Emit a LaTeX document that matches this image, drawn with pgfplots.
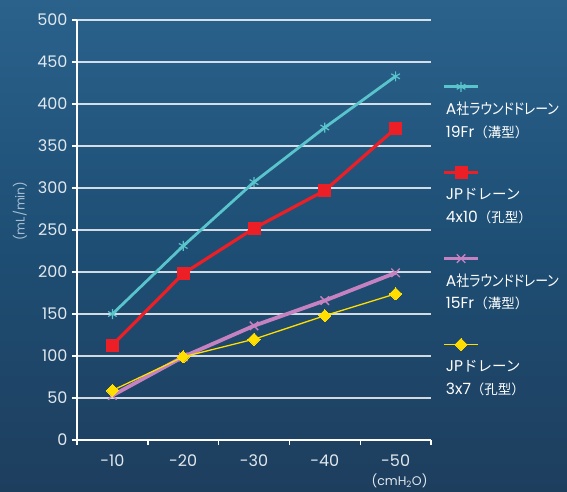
\documentclass[border=0pt]{standalone}
\usepackage{pgfplots}
\pgfplotsset{compat=1.18}
\usepackage{fontspec}
\setmainfont{Poppins}
\newfontfamily\jp[RawFeature=+palt, FakeStretch=0.86]{Noto Sans CJK JP}
\newfontfamily\jpf{Noto Sans CJK JP}
\newcommand\Asha{A{\jp\fontsize{15}{22.5}\selectfont 社ラウンドドレーン}}
\newcommand\JPd{JP{\jpf\fontsize{14.5}{22.5}\selectfont ドレーン}}
\newcommand\kata[1]{{\jpf\fontsize{13.5}{22.5}\selectfont （#1）}}
\definecolor{bgtop}{RGB}{42,98,140}
\definecolor{bgmid}{RGB}{30,78,116}
\definecolor{bgbot}{RGB}{30,62,94}
\definecolor{cyanL}{RGB}{90,196,204}
\definecolor{redL}{RGB}{236,30,38}
\definecolor{pinkL}{RGB}{198,130,192}
\definecolor{yelL}{RGB}{255,222,0}
\definecolor{tickc}{RGB}{225,232,238}
\definecolor{labc}{RGB}{165,190,210}
\begin{document}
\begin{tikzpicture}
\shade[top color=bgtop, bottom color=bgbot, middle color=bgmid] (0pt,0pt) rectangle (567pt,491pt);
\begin{axis}[
  at={(77pt,51pt)}, anchor=south west,
  scale only axis, width=354pt, height=420pt,
  xmin=0.5, xmax=5.5, ymin=0, ymax=500,
  xtick={1,2,3,4,5}, xticklabels={-10,-20,-30,-40,-50},
  minor xtick={0.5,1.5,2.5,3.5,4.5,5.5},
  ytick={0,50,...,500},
  axis x line*=bottom, axis y line*=left,
  axis line style={white, line width=1.6pt},
  tick align=outside,
  major tick length=5pt, minor tick length=5pt,
  tick style={white, line width=1.4pt},
  every major x tick/.style={draw=none},
  ymajorgrids,
  major grid style={white, opacity=0.8, line width=1.2pt},
  ticklabel style={text=tickc, font=\fontsize{16}{16}\selectfont},
  yticklabel style={xshift=-1pt},
  xticklabel style={yshift=-6pt},
  /pgf/number format/assume math mode=true,
  clip=false,
  ylabel={(mL/min)},
  ylabel style={at={(axis description cs:-0.161,0.545)}, anchor=center, text=labc, font=\fontsize{12.5}{12.5}\selectfont},
  xlabel={(cmH\textsubscript{2}O)},
  xlabel style={at={(axis description cs:1.0,-0.097)}, anchor=east, text=tickc, font=\fontsize{12.5}{12.5}\selectfont},
  legend cell align=left,
  legend style={at={(axis description cs:1.0225,0.81)}, anchor=north west, draw=none, fill=none,
    row sep=50pt, column sep=0pt,
    nodes={inner sep=0pt, align=left, text=white, font=\fontsize{15.5}{22.5}\selectfont}},
  legend image code/.code={\path (0pt,0pt);
    \draw[overlay, mark repeat=2, mark phase=2, #1] plot coordinates {(0pt,33.5pt) (17pt,33.5pt) (34pt,33.5pt)};},
]
\addplot[cyanL, line width=2.8pt, mark=asterisk, mark size=5pt, mark options={line width=1.2pt}]
  coordinates {(1,150)(2,231)(3,307)(4,372)(5,433)};
\addlegendentry{\Asha\\19Fr\kata{溝型}}
\addplot[redL, line width=3.2pt, mark=square*, mark size=6pt, mark options={line width=0pt}]
  coordinates {(1,113)(2,198)(3,252)(4,297)(5,371)};
\addlegendentry{\JPd\\4x10\kata{孔型}}
\addplot[pinkL, line width=3.8pt, mark=x, mark size=6pt, mark options={line width=1.4pt}]
  coordinates {(1,53)(2,99)(3,136)(4,166)(5,199)};
\addlegendentry{\Asha\\15Fr\kata{溝型}}
\addplot[yelL, line width=1.3pt, mark=square*, mark size=4.3pt, mark options={rotate=45, line width=0pt}]
  coordinates {(1,59)(2,99)(3,120)(4,148)(5,174)};
\addlegendentry{\JPd\\3x7\kata{孔型}}
\end{axis}
\pgfresetboundingbox
\path[use as bounding box] (0pt,0pt) rectangle (567pt,491pt);
\end{tikzpicture}
\end{document}
